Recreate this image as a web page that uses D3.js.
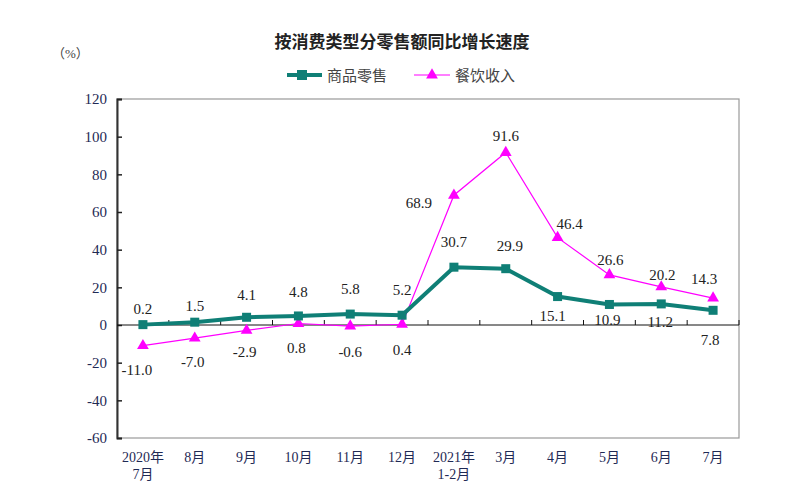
<!DOCTYPE html>
<html>
<head>
<meta charset="utf-8">
<script src="https://cdn.jsdelivr.net/npm/d3@7"></script>
<style>
  body { margin: 0; background: #fff; }
  text { font-family: "Liberation Serif", "Noto Sans CJK SC", serif; }
</style>
</head>
<body>
<div id="chart"></div>
<script>
const categories = ['2020年\n7月', '8月', '9月', '10月', '11月', '12月', '2021年\n1-2月', '3月', '4月', '5月', '6月', '7月'];
const retailValues = [0.2, 1.5, 4.1, 4.8, 5.8, 5.2, 30.7, 29.9, 15.1, 10.9, 11.2, 7.8];
const cateringValues = [-11.0, -7.0, -2.9, 0.8, -0.6, 0.4, 68.9, 91.6, 46.4, 26.6, 20.2, 14.3];
const yTicks = [-60, -40, -20, 0, 20, 40, 60, 80, 100, 120];
const seriesNames = ['商品零售', '餐饮收入'];

const W = 804, H = 490;
const margin = { top: 99, right: 65, bottom: 52, left: 117 };
const width = W - margin.left - margin.right;
const height = H - margin.top - margin.bottom;

const teal = '#0f7f76';
const magenta = '#ff00ff';

const svg = d3.select('#chart').append('svg')
  .attr('width', W).attr('height', H);

svg.append('text')
  .attr('x', 402).attr('y', 48)
  .attr('text-anchor', 'middle')
  .style('font-family', '"Noto Sans CJK SC", sans-serif')
  .style('font-weight', 'bold')
  .style('font-size', '17px')
  .style('fill', '#222')
  .text('按消费类型分零售额同比增长速度');

svg.append('text')
  .attr('x', 52).attr('y', 58)
  .style('font-size', '13px').style('fill', '#444')
  .text('（%）');

const g = svg.append('g').attr('transform', `translate(${margin.left},${margin.top})`);

const x = d3.scaleBand().domain(d3.range(categories.length)).range([0, width]);
const y = d3.scaleLinear().domain([-60, 120]).range([height, 0]);
const cx = i => x(i) + x.bandwidth() / 2;

// frame
g.append('rect')
  .attr('x', 0).attr('y', 0).attr('width', width).attr('height', height)
  .attr('fill', 'none').attr('stroke', '#999').attr('stroke-width', 1.2);

// y axis
const yAxis = g.append('g')
  .call(d3.axisLeft(y).tickValues(yTicks).tickSize(-5).tickPadding(10).tickFormat(d => String(d)));
yAxis.select('.domain').attr('stroke', '#333').attr('stroke-width', 2);
yAxis.selectAll('.tick line').attr('stroke', '#222').attr('stroke-width', 1.5);
yAxis.selectAll('.tick text')
  .style('font-family', '"Liberation Serif", serif')
  .style('font-size', '15px').style('fill', '#1f2a55');

// zero line with category boundary ticks
const zero = g.append('g').attr('transform', `translate(0,${y(0)})`);
zero.append('line').attr('x1', 0).attr('x2', width).attr('stroke', '#111').attr('stroke-width', 1);
zero.selectAll('line.b')
  .data(d3.range(1, categories.length + 1))
  .join('line').attr('class', 'b')
  .attr('x1', i => x.step() * i).attr('x2', i => x.step() * i)
  .attr('y1', 0).attr('y2', -5)
  .attr('stroke', '#111').attr('stroke-width', 1);

// category labels
const xl = g.append('g').attr('transform', `translate(0,${height})`);
categories.forEach((c, i) => {
  const t = xl.append('text')
    .attr('x', cx(i)).attr('y', 24)
    .attr('text-anchor', 'middle')
    .style('font-size', '14px').style('fill', '#1f2a55');
  c.split('\n').forEach((line, k) => {
    t.append('tspan').attr('x', cx(i)).attr('dy', k === 0 ? 0 : 17).text(line);
  });
});

const line = d3.line().x((d, i) => cx(i)).y(d => y(d));

// catering
g.append('path').attr('d', line(cateringValues))
  .attr('fill', 'none').attr('stroke', magenta).attr('stroke-width', 1.2);
const tri = d3.symbol().type(d3.symbolTriangle).size(60);
g.selectAll('path.tri').data(cateringValues).join('path').attr('class', 'tri')
  .attr('transform', (d, i) => `translate(${cx(i)},${y(d)})`)
  .attr('d', tri).attr('fill', magenta);

// retail
g.append('path').attr('d', line(retailValues))
  .attr('fill', 'none').attr('stroke', teal).attr('stroke-width', 4);
g.selectAll('rect.sq').data(retailValues).join('rect').attr('class', 'sq')
  .attr('x', (d, i) => cx(i) - 4.5).attr('y', d => y(d) - 4.5)
  .attr('width', 9).attr('height', 9).attr('fill', teal);

// data labels (offset from each point)
const retailOff = [[0, -16], [0, -16], [0, -22], [0, -24], [0, -25], [0, -25], [0, -25], [4, -23], [-5, 19], [-2, 16], [-1, 18], [-3, 30]];
const cateringOff = [[-6, 24], [-2, 24], [-2, 22], [-2, 25], [0, 26], [0, 26], [-35, 8], [0, -16], [12, -14], [1, -15], [1, -12], [-9, -19]];

function labels(vals, off) {
  g.selectAll(null).data(vals).join('text')
    .attr('x', (d, i) => cx(i) + off[i][0])
    .attr('y', (d, i) => y(d) + off[i][1] + 5)
    .attr('text-anchor', 'middle')
    .style('font-size', '15px').style('fill', '#222')
    .text(d => d.toFixed(1));
}
labels(retailValues, retailOff);
labels(cateringValues, cateringOff);

// legend
const lg = svg.append('g').attr('transform', 'translate(0,75)');
lg.append('line').attr('x1', 287).attr('x2', 322).attr('stroke', teal).attr('stroke-width', 4);
lg.append('rect').attr('x', 297).attr('y', -5).attr('width', 10).attr('height', 10).attr('fill', teal);
lg.append('text').attr('x', 327).attr('y', 6)
  .style('font-size', '15px').style('fill', '#444').text(seriesNames[0]);
lg.append('line').attr('x1', 414).attr('x2', 450).attr('stroke', magenta).attr('stroke-width', 1.2);
lg.append('path').attr('transform', 'translate(432,0)').attr('d', tri).attr('fill', magenta);
lg.append('text').attr('x', 455).attr('y', 6)
  .style('font-size', '15px').style('fill', '#444').text(seriesNames[1]);
</script>
</body>
</html>
